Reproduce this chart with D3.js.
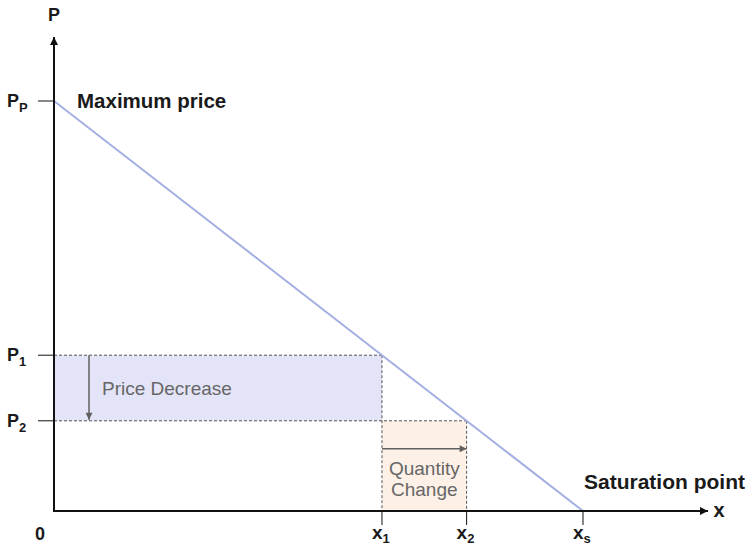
<!DOCTYPE html>
<html>
<head>
<meta charset="utf-8">
<script src="https://cdn.jsdelivr.net/npm/d3@7"></script>
<style>
  body { margin: 0; background: #fff; }
  svg { font-family: "Liberation Sans", Arial, sans-serif; }
</style>
</head>
<body>
<svg id="chart" width="747" height="546"></svg>
<script>
// demand curve end points (price axis, quantity axis)
const demandLine = [{ x: 0, p: 100 }, { x: 100, p: 0 }]
// price levels
const priceTicks = [
  { key: 'P', sub: 'P', value: 100 },
  { key: 'P', sub: '1', value: 38 },
  { key: 'P', sub: '2', value: 22 },
]
// quantity levels
const quantityTicks = [
  { key: 'x', sub: '1', value: 62 },
  { key: 'x', sub: '2', value: 78 },
  { key: 'x', sub: 's', value: 100 },
]
const annotations = {
  maxPrice: 'Maximum price',
  saturation: 'Saturation point',
  priceDecrease: 'Price Decrease',
  quantityChange: ['Quantity', 'Change'],
}

const svg = d3.select('#chart')

const xScale = d3.scaleLinear().domain([0, 100]).range([54, 583])
const yScale = d3.scaleLinear().domain([0, 100]).range([511, 101])

const p1 = priceTicks[1].value
const p2 = priceTicks[2].value
const x1 = quantityTicks[0].value
const x2 = quantityTicks[1].value

const defs = svg.append('defs')
defs
  .append('marker')
  .attr('id', 'arrowBlack')
  .attr('viewBox', '0 0 10 10')
  .attr('refX', 10)
  .attr('refY', 5)
  .attr('markerWidth', 10)
  .attr('markerHeight', 8)
  .attr('markerUnits', 'userSpaceOnUse')
  .attr('orient', 'auto')
  .append('path')
  .attr('d', 'M0,0L10,5L0,10Z')
  .attr('fill', '#111')

defs
  .append('marker')
  .attr('id', 'arrowGray')
  .attr('viewBox', '0 0 10 10')
  .attr('refX', 10)
  .attr('refY', 5)
  .attr('markerWidth', 9)
  .attr('markerHeight', 7)
  .attr('markerUnits', 'userSpaceOnUse')
  .attr('orient', 'auto')
  .append('path')
  .attr('d', 'M0,0L10,5L0,10Z')
  .attr('fill', '#606060')

// shaded areas
svg
  .append('rect')
  .attr('x', xScale(0))
  .attr('y', yScale(p1))
  .attr('width', xScale(x1) - xScale(0))
  .attr('height', yScale(p2) - yScale(p1))
  .attr('fill', '#e4e4f8')

svg
  .append('rect')
  .attr('x', xScale(x1))
  .attr('y', yScale(p2))
  .attr('width', xScale(x2) - xScale(x1))
  .attr('height', yScale(0) - yScale(p2))
  .attr('fill', '#fdf1e7')

// dashed guides
const dash = svg
  .append('g')
  .attr('fill', 'none')
  .attr('stroke', '#555')
  .attr('stroke-width', 1)
  .attr('stroke-dasharray', '3,2')

dash.append('line')
  .attr('x1', xScale(0)).attr('x2', xScale(x1))
  .attr('y1', yScale(p1)).attr('y2', yScale(p1))
dash.append('line')
  .attr('x1', xScale(0)).attr('x2', xScale(x2))
  .attr('y1', yScale(p2)).attr('y2', yScale(p2))
dash.append('line')
  .attr('x1', xScale(x1)).attr('x2', xScale(x1))
  .attr('y1', yScale(p1)).attr('y2', yScale(0))
dash.append('line')
  .attr('x1', xScale(x2)).attr('x2', xScale(x2))
  .attr('y1', yScale(p2)).attr('y2', yScale(0))

// demand line
svg
  .append('path')
  .datum(demandLine)
  .attr('fill', 'none')
  .attr('stroke', '#a4afe2')
  .attr('stroke-width', 2)
  .attr('d', d3.line().x((d) => xScale(d.x)).y((d) => yScale(d.p)))

// change arrows
svg
  .append('line')
  .attr('x1', xScale(0) + 35)
  .attr('x2', xScale(0) + 35)
  .attr('y1', yScale(p1))
  .attr('y2', yScale(p2) - 1)
  .attr('stroke', '#606060')
  .attr('stroke-width', 1.5)
  .attr('marker-end', 'url(#arrowGray)')

svg
  .append('line')
  .attr('x1', xScale(x1))
  .attr('x2', xScale(x2))
  .attr('y1', yScale(p2) + 28)
  .attr('y2', yScale(p2) + 28)
  .attr('stroke', '#606060')
  .attr('stroke-width', 1.5)
  .attr('marker-end', 'url(#arrowGray)')

// axes
svg
  .append('line')
  .attr('x1', xScale(0))
  .attr('x2', xScale(0))
  .attr('y1', yScale(0) + 1)
  .attr('y2', 37)
  .attr('stroke', '#111')
  .attr('stroke-width', 2)
  .attr('marker-end', 'url(#arrowBlack)')

svg
  .append('line')
  .attr('x1', xScale(0) - 1)
  .attr('x2', 708)
  .attr('y1', yScale(0))
  .attr('y2', yScale(0))
  .attr('stroke', '#111')
  .attr('stroke-width', 2)
  .attr('marker-end', 'url(#arrowBlack)')

// y ticks with subscript labels
const yTicks = svg
  .append('g')
  .selectAll('g')
  .data(priceTicks)
  .join('g')
  .attr('transform', (d) => `translate(0,${yScale(d.value)})`)

yTicks
  .append('line')
  .attr('x1', 38)
  .attr('x2', xScale(0))
  .attr('stroke', '#111')
  .attr('stroke-width', 1)

const yLabels = yTicks
  .append('text')
  .attr('x', 7)
  .attr('y', 6)
  .attr('font-size', 18)
  .attr('font-weight', 'bold')
  .attr('fill', '#1a1a1a')

yLabels.append('tspan').text((d) => d.key)
yLabels
  .append('tspan')
  .attr('dy', 5)
  .attr('font-size', 13)
  .text((d) => d.sub)

// x ticks
const xTicks = svg
  .append('g')
  .selectAll('g')
  .data(quantityTicks)
  .join('g')
  .attr('transform', (d) => `translate(${xScale(d.value)},0)`)

xTicks
  .append('line')
  .attr('y1', yScale(0))
  .attr('y2', yScale(0) + 14)
  .attr('stroke', '#111')
  .attr('stroke-width', 1)

const xLabels = xTicks
  .append('text')
  .attr('x', -10)
  .attr('y', 539)
  .attr('font-size', 19)
  .attr('font-weight', 'bold')
  .attr('fill', '#1a1a1a')

xLabels.append('tspan').text((d) => d.key)
xLabels
  .append('tspan')
  .attr('dy', 4)
  .attr('font-size', 13)
  .text((d) => d.sub)

// axis titles and origin
function label(x, y, txt, anchor, size) {
  return svg
    .append('text')
    .attr('x', x)
    .attr('y', y)
    .attr('text-anchor', anchor || 'start')
    .attr('font-size', size || 18)
    .attr('font-weight', 'bold')
    .attr('fill', '#1a1a1a')
    .text(txt)
}
label(54, 21, 'P', 'middle')
label(719, 517, 'x', 'middle', 20)
label(40, 540, '0', 'middle')
label(77, 108, annotations.maxPrice, 'start', 20.5)
label(745, 489, annotations.saturation, 'end', 21)

// annotation text
svg
  .append('text')
  .attr('x', 102)
  .attr('y', 395)
  .attr('font-size', 19)
  .attr('fill', '#666')
  .text(annotations.priceDecrease)

svg
  .append('g')
  .selectAll('text')
  .data(annotations.quantityChange)
  .join('text')
  .attr('x', (xScale(x1) + xScale(x2)) / 2)
  .attr('y', (d, i) => 475 + i * 21)
  .attr('text-anchor', 'middle')
  .attr('font-size', 19)
  .attr('fill', '#666')
  .text((d) => d)
</script>
</body>
</html>
